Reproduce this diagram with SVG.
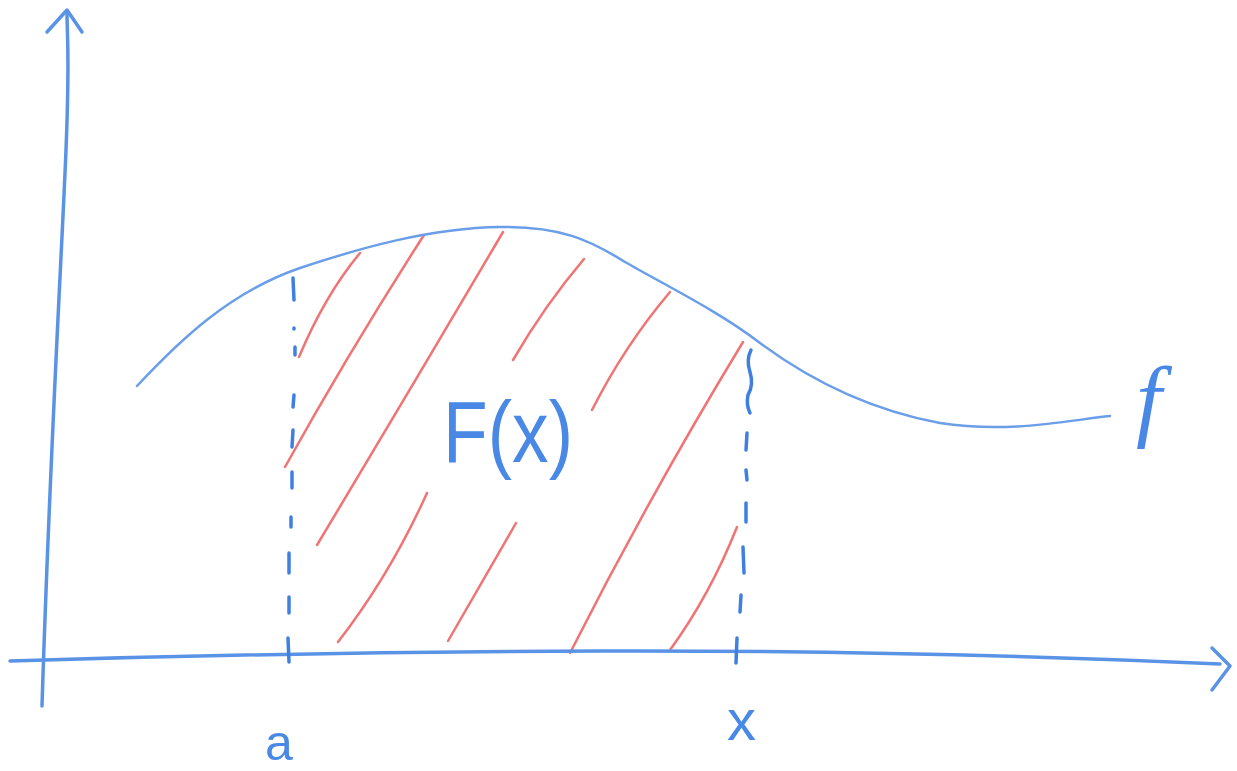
<svg xmlns="http://www.w3.org/2000/svg" width="1237" height="771" viewBox="0 0 1237 771">
<style>
.ax{fill:none;stroke:#5a93e6;stroke-width:3.5;stroke-linecap:round;stroke-linejoin:round}
.cv{fill:none;stroke:#6a9ee8;stroke-width:2.5;stroke-linecap:round}
.ds{fill:none;stroke:#3f7fe0;stroke-width:3.5;stroke-linecap:round}
.ht{fill:none;stroke:#f07474;stroke-width:2.5;stroke-linecap:round}
.lb{fill:#4a88e6;font-family:"Liberation Sans",Arial,sans-serif}
</style>
<rect width="1237" height="771" fill="#ffffff"/>
<g id="hatch">
<path class="ht" d="M360,253 Q325,295 299,357"/>
<path class="ht" d="M424,235 Q350,350 285,467"/>
<path class="ht" d="M503,232 Q410,390 317,545"/>
<path class="ht" d="M584,259 Q545,305 513,360"/>
<path class="ht" d="M670,292 Q625,345 592,410"/>
<path class="ht" d="M743,342 Q650,495 570,653"/>
<path class="ht" d="M427,493 Q390,575 338,642"/>
<path class="ht" d="M516,523 Q480,585 448,641"/>
<path class="ht" d="M737,527 Q710,595 670,650"/>
</g>
<g id="curve-f">
<path class="cv" d="M137,386 C180,340 230,292 300,268 C360,248 430,228 500,227 C560,226 590,240 625,262 C665,285 720,312 760,343 C810,380 870,410 940,423 C1010,434 1070,420 1110,416"/>
</g>
<g id="axes">
<path class="ax" d="M10,661 Q300,652 600,651 Q900,650 1220,664"/>
<path class="ax" d="M1212,648 L1230,666 L1212,690"/>
<path class="ax" d="M42,706 C50,450 62,250 66,150 S67,40 67,12"/>
<path class="ax" d="M47,32 L67,10 L82,32"/>
</g>
<g id="dashes-a">
<path class="ds" d="M293,278 L294,300"/>
<path class="ds" d="M294,328 L294,329"/>
<path class="ds" d="M295,347 L295,355"/>
<path class="ds" d="M294,395 L293,407"/>
<path class="ds" d="M293,430 L292,447"/>
<path class="ds" d="M292,472 L292,488"/>
<path class="ds" d="M291,517 L291,527"/>
<path class="ds" d="M289,553 L289,573"/>
<path class="ds" d="M289,597 L289,613"/>
<path class="ds" d="M288,638 L289,662"/>
</g>
<g id="dashes-x">
<path class="ds" d="M751,350 Q746,360 750,372 Q754,385 748,395 Q746,405 750,413"/>
<path class="ds" d="M747,433 L746,450"/>
<path class="ds" d="M746,470 L747,480"/>
<path class="ds" d="M746,503 L746,522"/>
<path class="ds" d="M743,547 L744,573"/>
<path class="ds" d="M741,595 L740,612"/>
<path class="ds" d="M737,638 L736,663"/>
</g>
<g id="label-a"><text class="lb" x="265" y="760" font-size="50">a</text></g>
<g id="label-x"><text class="lb" x="727" y="740" font-size="58">x</text></g>
<g id="label-Fx"><text class="lb" x="443" y="462" font-size="88" textLength="130" lengthAdjust="spacingAndGlyphs">F(x)</text></g>
<g id="label-f"><text x="1136" y="430" font-size="92" font-style="italic" fill="#4a88e6" font-family="'Liberation Serif','Times New Roman',serif">f</text></g>
</svg>
